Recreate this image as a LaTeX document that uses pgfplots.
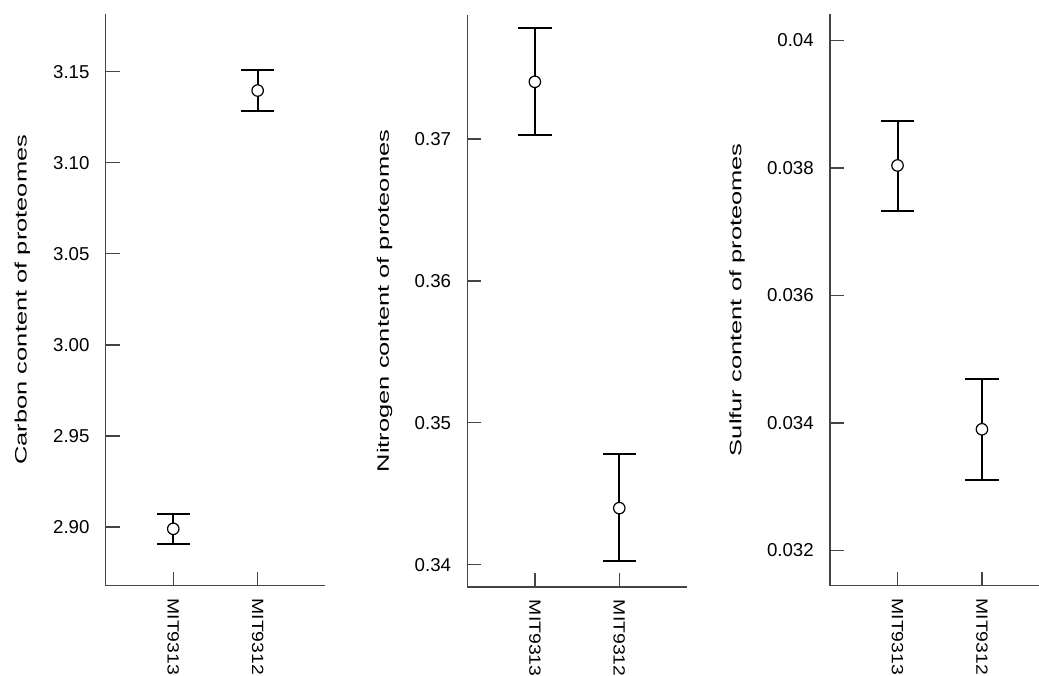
\documentclass[border=0pt]{standalone}
\usepackage{fontspec}
\setmainfont{Liberation Sans}
\usepackage{graphicx}
\usepackage{pgfplots}
\pgfplotsset{compat=1.18}
\definecolor{axgray}{RGB}{68,68,68}
\pgfplotsset{
  myaxis/.style={
    scale only axis, width=164.6pt, height=429pt,
    anchor=south west,
    axis x line*=bottom, axis y line*=left,
    axis line style={axgray, line width=1pt},
    xmin=0.2, xmax=2.8, xtick={1,2},
    xticklabels={{\scalebox{1.19}[1]{MIT9313}},{\scalebox{1.19}[1]{MIT9312}}},
    tick align=inside,
    major tick length=10.5pt,
    every tick/.style={axgray, line width=1pt},
    xticklabel style={rotate=-90, anchor=west, inner sep=0pt, font=\fontsize{12.2}{13}\selectfont},
    xticklabel shift=9.5pt,
    yticklabel style={anchor=east, inner sep=0pt, font=\fontsize{14}{15}\selectfont},
    yticklabel shift=12pt,
    /pgf/number format/assume math mode=true,
    scaled y ticks=false,
    ylabel style={anchor=base, font=\fontsize{12.4}{13}\selectfont},
  },
  mypts/.style={
    black, only marks, mark=*, mark size=4.3pt,
    mark options={fill=white, draw=black, line width=0.9pt},
    error bars/.cd, y dir=both, y explicit, error mark=|,
    error bar style={line width=1.5pt, black},
    error mark options={line width=1.5pt, mark size=12.5pt, black},
  },
}
\begin{document}
\begin{tikzpicture}
% Panel 1: Carbon
\begin{axis}[myaxis, at={(79.3pt,67pt)},
  ymin=2.8678, ymax=3.1818,
  ytick={2.90,2.95,3.00,3.05,3.10,3.15},
  yticklabel style={/pgf/number format/.cd, fixed, fixed zerofill, precision=2},
  ylabel={\scalebox{1.54}[1]{Carbon content of proteomes}},
  ylabel style={at={(axis description cs:-0.36,0.5)}},
]
\addplot+[mypts] coordinates {
  (1,2.8990) += (0,0.0079) -= (0,0.0082)
  (2,3.1396) += (0,0.0111) -= (0,0.0111)
};
\end{axis}
% Panel 2: Nitrogen
\begin{axis}[myaxis, at={(350.5pt,66pt)},
  ymin=0.33842, ymax=0.37875,
  ytick={0.34,0.35,0.36,0.37},
  yticklabel style={/pgf/number format/.cd, fixed, fixed zerofill, precision=2},
  ylabel={\scalebox{1.54}[1]{Nitrogen content of proteomes}},
  ylabel style={at={(axis description cs:-0.357,0.5)}},
]
\addplot+[mypts] coordinates {
  (1,0.37404) += (0,0.00379) -= (0,0.00374)
  (2,0.34398) += (0,0.00383) -= (0,0.00374)
};
\end{axis}
% Panel 3: Sulfur
\begin{axis}[myaxis, at={(622.5pt,67pt)},
  ymin=0.031446, ymax=0.040422,
  ytick={0.032,0.034,0.036,0.038,0.04},
  yticklabel style={/pgf/number format/.cd, fixed, precision=3},
  ylabel={\scalebox{1.54}[1]{Sulfur content of proteomes}},
  ylabel style={at={(axis description cs:-0.404,0.5)}},
]
\addplot+[mypts] coordinates {
  (1,0.03804) += (0,0.00070) -= (0,0.00071)
  (2,0.03390) += (0,0.00079) -= (0,0.00079)
};
\end{axis}
\pgfresetboundingbox
\path[use as bounding box] (0,0) rectangle (779.25pt,506.25pt);
\end{tikzpicture}
\end{document}
